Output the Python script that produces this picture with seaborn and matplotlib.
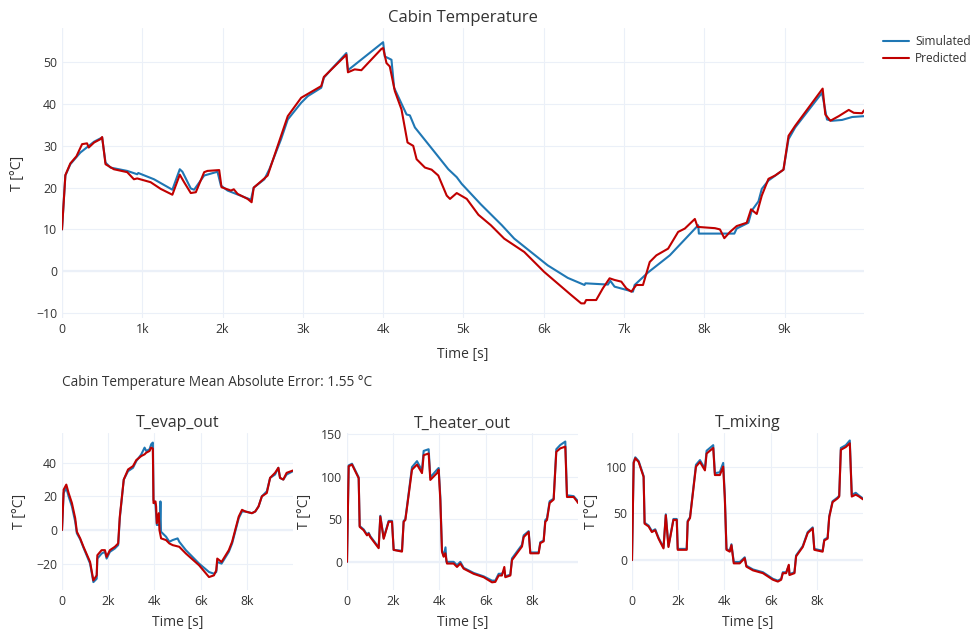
import matplotlib
matplotlib.use("Agg")
import matplotlib.pyplot as plt
from matplotlib.ticker import FuncFormatter
from matplotlib.lines import Line2D
import seaborn as sns

# DATA
cabin_sim_t = [0, 42, 104, 229, 400, 500, 542, 604, 812, 937, 950, 1146, 1375, 1467, 1500, 1604, 1646,
               1771, 1937, 1979, 2062, 2354, 2388, 2521, 2583, 2729, 2812, 2979, 3062, 3229, 3262, 3354,
               3542, 3562, 4000, 4021, 4104, 4137, 4292, 4333, 4396, 4646, 4812, 4917, 4979, 5217, 5479,
               5633, 6050, 6300, 6508, 6520, 6800, 6830, 6883, 7112, 7133, 7300, 7571, 7925, 7933, 8375,
               8404, 8550, 8592, 8675, 8717, 8800, 8987, 9050, 9133, 9467, 9529, 9592, 9717, 9842, 9990]
cabin_sim_T = [10, 22.9, 25.6, 28.4, 31, 32, 26, 24.8, 24, 23.2, 23.5, 22, 19.5, 24.4, 23.8, 19.8, 19.5,
               22.9, 23.8, 20.5, 19.3, 17.1, 20, 22, 24.4, 31.6, 36.3, 40.3, 41.9, 43.9, 46.3, 48.3,
               52.2, 48.1, 54.8, 51.4, 50.6, 43.9, 37.5, 37.3, 34.4, 28.4, 24.4, 22.5, 20.9, 16.0, 11,
               7.8, 1.4, -1.6, -3.3, -2.9, -3.2, -2.3, -3.7, -4.9, -3.3, -0.3, 3.8, 11, 9, 9,
               10.2, 11.6, 14.5, 16.7, 19.7, 21.7, 24.3, 31.6, 34.4, 42.7, 36.3, 36, 36.2, 36.9, 37.1]

cabin_pred_t = [0, 42, 104, 180, 250, 312, 333, 400, 479, 500, 542, 646, 812, 896, 937, 1104, 1229, 1375,
                1467, 1521, 1604, 1667, 1771, 1812, 1958, 1987, 2104, 2140, 2187, 2312, 2362, 2388, 2479,
                2562, 2729, 2812, 2979, 3104, 3229, 3262, 3521, 3542, 3562, 3646, 3729, 3812, 3979, 4000,
                4042, 4083, 4146, 4229, 4304, 4375, 4417, 4521, 4604, 4687, 4792, 4833, 4917, 5042, 5187,
                5342, 5508, 5758, 6008, 6342, 6467, 6508, 6529, 6654, 6737, 6821, 6883, 6967, 7029, 7092,
                7154, 7237, 7321, 7404, 7550, 7675, 7758, 7883, 7917, 8133, 8196, 8250, 8321, 8404, 8529,
                8583, 8654, 8717, 8800, 8883, 8987, 9050, 9133, 9475, 9508, 9571, 9675, 9800, 9863, 9967,
                9990]
cabin_pred_T = [10, 23, 25.8, 27.5, 30.4, 30.6, 29.6, 30.8, 31.6, 32.1, 25.6, 24.4, 23.7, 22, 22.2, 21.3,
                19.7, 18.3, 23.1, 21.3, 18.7, 18.9, 23.7, 24, 24.2, 20.1, 19.3, 19.6, 18.5, 17.3, 16.5, 20,
                21.5, 22.9, 32.4, 37.1, 41.5, 42.9, 44.3, 46.5, 51.4, 51.8, 47.6, 48.3, 48.1, 49.8, 53.2,
                53.4, 49.8, 49, 43.1, 38.7, 30.8, 30, 26.8, 24.8, 24.3, 22.9, 18.1, 17.3, 18.7, 17.3, 13.5,
                11, 7.8, 4.6, -0.2, -5.7, -7.7, -7.7, -6.9, -6.9, -4.1, -1.7, -2.1, -2.5, -4.1, -4.9,
                -3.3, -3.3, 2.2, 3.8, 5.4, 9.4, 10.2, 12.5, 10.6, 10.3, 10, 7.9, 9.4, 10.8, 11.6,
                14.8, 13.7, 18.1, 22.1, 22.9, 24.3, 32.4, 34.8, 43.7, 37.5, 36, 37.1, 38.6, 37.9, 37.8,
                38.5]

evap_sim_t = [0, 71, 186, 286, 429, 571, 643, 786, 929, 1214, 1357, 1500, 1529, 1714, 1857, 1929, 2071,
              2286, 2429, 2500, 2671, 2857, 3071, 3214, 3429, 3571, 3643, 3786, 3857, 3929, 3957, 4043,
              4100, 4230, 4257, 4280, 4500, 4643, 4786, 5000, 5071, 5357, 5929, 6357, 6571, 6671, 6714,
              6900, 7214, 7357, 7643, 7786, 7929, 8214, 8357, 8500, 8643, 8857, 9000, 9214, 9357, 9429,
              9571, 9714, 9990]
evap_sim_T = [0, 22, 25, 20, 14, 5, -2, -5.5, -10.5, -20, -31, -29, -17, -14, -13, -17, -13,
              -11, -9, 7, 30, 35, 37, 41, 45, 49, 47, 48, 51, 52, 18, 15,
              3, 3, 17, -1, -4, -7, -6, -5, -7, -12, -20, -25, -26, -25, -19,
              -20, -13, -8, 7, 11, 11, 10, 11, 14, 20, 23, 31, 33, 37, 31,
              30, 33, 35]

evap_pred_t = [0, 71, 186, 286, 429, 571, 643, 786, 929, 1214, 1357, 1500, 1529, 1714, 1857, 1929, 2071,
               2286, 2429, 2500, 2671, 2857, 3071, 3214, 3429, 3571, 3643, 3786, 3857, 3929, 3957, 4043,
               4071, 4100, 4186, 4214, 4286, 4500, 4643, 4786, 5071, 5357, 5929, 6357, 6571, 6671, 6714,
               6900, 7214, 7357, 7643, 7786, 7929, 8214, 8357, 8500, 8643, 8857, 9000, 9214, 9357, 9429,
               9571, 9714, 9990]
evap_pred_T = [0, 24, 27, 22, 16, 7, -1, -5, -10, -19, -30, -27, -15, -12, -12, -16, -12,
               -10, -8, 8, 30, 36, 38, 41.6, 44, 45, 46, 47, 49, 48.4, 16, 17,
               14, 4, 10, 0, -5, -6, -8, -9, -10, -14, -21, -28, -27, -24, -17,
               -19, -12, -7, 8, 12, 11, 10, 11, 14, 20, 22, 31, 34, 37, 31,
               30, 34, 35.4]

heater_sim_t = [0, 72, 216, 505, 548, 721, 865, 937, 1009, 1369, 1441, 1586, 1802, 1946, 2018, 2378, 2450,
                2523, 2811, 3027, 3243, 3315, 3531, 3603, 3892, 3964, 4036, 4108, 4180, 4260, 4300, 4612,
                4757, 4901, 5045, 5477, 5910, 6270, 6414, 6559, 6700, 6804, 6847, 7063, 7135, 7351, 7568,
                7640, 7856, 7928, 8288, 8360, 8504, 8576, 8648, 8763, 8937, 9052, 9225, 9441, 9513, 9801,
                9990]
heater_sim_T = [0, 113, 115, 99, 42, 38, 32, 34, 30, 17, 54, 28, 48, 48, 14, 13, 48,
                50, 111, 118, 107, 130, 132, 99, 108, 110, 76, 13, 7, 17, 0, 0,
                -4, 0, -7, -13, -17, -22, -22, -14, -14, -10, -17, -15, 4, 12, 20,
                31, 36, 11, 11, 23, 25, 49, 51, 71, 74, 132, 137, 141, 78, 77,
                71]

heater_pred_t = [0, 72, 216, 505, 548, 721, 865, 937, 1009, 1369, 1441, 1586, 1802, 1946, 2018, 2378, 2450,
                 2523, 2811, 3027, 3243, 3315, 3531, 3603, 3892, 3964, 4036, 4108, 4180, 4252, 4324, 4612,
                 4757, 4901, 5045, 5477, 5910, 6270, 6414, 6559, 6700, 6804, 6847, 7063, 7135, 7351, 7568,
                 7640, 7856, 7928, 8288, 8360, 8504, 8576, 8648, 8763, 8937, 9052, 9225, 9441, 9513, 9801,
                 9945, 9990]
heater_pred_T = [0, 112, 114, 98, 41, 37, 31, 33, 29, 16, 53, 27, 47, 47, 14, 12, 47,
                 49, 108, 114, 104, 125, 127, 96, 104, 108, 72, 12, 6, 10, -2, -2,
                 -6, -2, -8, -14, -18, -24, -23.5, -16, -16, -6, -18, -16, 2, 10, 18,
                 29, 35, 10, 10, 22, 24, 47, 49, 69, 73, 129, 133, 135, 76, 76,
                 71, 69]

mixing_sim_t = [0, 72, 143, 287, 502, 545, 717, 860, 1004, 1147, 1362, 1462, 1577, 1792, 1935, 1978, 2366,
                2409, 2509, 2767, 2939, 3154, 3226, 3513, 3584, 3799, 3943, 4014, 4086, 4229, 4301, 4401,
                4659, 4875, 4946, 5233, 5663, 6093, 6308, 6452, 6523, 6667, 6781, 6810, 7025, 7097, 7384,
                7599, 7814, 7885, 8244, 8315, 8459, 8530, 8674, 8889, 8961, 9032, 9247, 9419, 9505, 9677,
                9821, 9990]
mixing_sim_T = [0, 105, 110, 106, 90, 40, 37, 31, 33, 24, 13.5, 49, 15, 44, 44, 12, 12,
                42, 46, 102, 107, 98, 117, 123, 93, 94, 104, 69, 12, 10, 17, -2,
                -2, 3, -6, -10, -13, -20, -22, -20, -13, -13, -6, -15, -13, 5, 15,
                30, 35, 12, 10, 22, 24, 47, 63, 67, 69, 120, 123, 128, 70, 72,
                69, 66]

mixing_pred_t = [0, 72, 143, 287, 502, 545, 717, 860, 1004, 1147, 1362, 1462, 1577, 1792, 1935, 1978, 2366,
                 2409, 2509, 2767, 2939, 3154, 3226, 3513, 3584, 3799, 3943, 4014, 4086, 4229, 4301, 4401,
                 4659, 4875, 4946, 5233, 5663, 6093, 6308, 6452, 6523, 6667, 6781, 6810, 7025, 7097, 7384,
                 7599, 7814, 7885, 8244, 8315, 8459, 8530, 8674, 8889, 8961, 9032, 9247, 9419, 9505, 9677,
                 9821, 9990]
mixing_pred_T = [0, 104, 109, 105, 89, 39, 36, 30, 32, 23, 12.5, 48, 14, 43, 43, 11, 11,
                 41, 45, 100, 105, 96, 114, 120, 91, 91, 100, 66, 11, 9, 16, -3.5,
                 -3.5, 2, -7, -11, -14, -21, -23, -21, -14, -14, -5, -16, -14, 4, 14,
                 29, 34, 11, 9, 21, 23, 46, 62, 66, 68, 118, 121, 125, 68, 70,
                 68, 65]

mae_text = "Cabin Temperature Mean Absolute Error: 1.55 °C"

# STYLE
sns.set_theme(style="white")
plt.rcParams['font.family'] = ['Open Sans', 'DejaVu Sans']
TEXT = "#333333"
GRID = "#EBF0F8"
SIM_COLOR = "#1f77b4"
PRED_COLOR = "#c00000"
LW = 1.5

W, H = 974, 632
fig = plt.figure(figsize=(W / 100, H / 100), dpi=100)
fig.patch.set_facecolor("white")


def px_axes(left, top, right, bottom):
    return fig.add_axes([left / W, 1 - bottom / H, (right - left) / W, (bottom - top) / H])


def k_fmt(v, pos):
    return "0" if v == 0 else f"{int(v / 1000)}k"


def style(ax, xticks, yticks, ylim, title, tsize, ylab_x, xlab_y):
    ax.set_facecolor("white")
    for s in ax.spines.values():
        s.set_visible(False)
    ax.set_xlim(0, 9990)
    ax.set_ylim(*ylim)
    ax.set_xticks(xticks)
    ax.set_yticks(yticks)
    ax.xaxis.set_major_formatter(FuncFormatter(k_fmt))
    ax.grid(True, color=GRID, linewidth=0.8)
    ax.axhline(0, color=GRID, linewidth=1.6, zorder=0.5)
    ax.axvline(0, color=GRID, linewidth=1.6, zorder=0.5)
    ax.set_axisbelow(True)
    ax.tick_params(length=0, labelsize=8.8, colors=TEXT, pad=3.5)
    ax.set_title(title, fontsize=tsize, color=TEXT, pad=4)
    ax.set_xlabel("Time [s]", fontsize=10, color=TEXT)
    ax.set_ylabel("T [°C]", fontsize=10, color=TEXT)
    ax.yaxis.set_label_coords(ylab_x, 0.5)
    ax.xaxis.set_label_coords(0.5, xlab_y)


def draw(ax, st, sT, pt, pT):
    sns.lineplot(x=st, y=sT, ax=ax, color=SIM_COLOR, linewidth=LW, sort=False, estimator=None)
    sns.lineplot(x=pt, y=pT, ax=ax, color=PRED_COLOR, linewidth=LW, sort=False, estimator=None)


# TOP: cabin temperature
ax_top = px_axes(62, 28, 864, 318)
draw(ax_top, cabin_sim_t, cabin_sim_T, cabin_pred_t, cabin_pred_T)
style(ax_top, range(0, 10000, 1000), range(-10, 60, 10), (-11.2, 58.2),
      "Cabin Temperature", 12, (25 - 62) / 802, -0.10)

fig.text(62 / W, 1 - 382 / H, mae_text, fontsize=9.8, color=TEXT, va="center", ha="left")

# BOTTOM: component temperatures
ax_evap = px_axes(62, 433, 293, 590)
draw(ax_evap, evap_sim_t, evap_sim_T, evap_pred_t, evap_pred_T)
style(ax_evap, range(0, 10000, 2000), [-20, 0, 20, 40], (-35.7, 57.7),
      "T_evap_out", 11.5, (27 - 62) / 231, -0.159)

ax_heat = px_axes(347, 433, 578, 590)
draw(ax_heat, heater_sim_t, heater_sim_T, heater_pred_t, heater_pred_T)
style(ax_heat, range(0, 10000, 2000), [0, 50, 100, 150], (-33, 151),
      "T_heater_out", 11.5, (312 - 347) / 231, -0.159)

ax_mix = px_axes(632, 433, 863, 590)
draw(ax_mix, mixing_sim_t, mixing_sim_T, mixing_pred_t, mixing_pred_T)
style(ax_mix, range(0, 10000, 2000), [0, 50, 100], (-32, 136),
      "T_mixing", 11.5, (599 - 632) / 231, -0.159)

# legend
handles = [Line2D([], [], color=SIM_COLOR, linewidth=LW),
           Line2D([], [], color=PRED_COLOR, linewidth=LW)]
fig.legend(handles, ["Simulated", "Predicted"], loc="upper left",
           bbox_to_anchor=(878 / W, 1 - 30 / H), frameon=False, fontsize=8.6,
           labelcolor=TEXT, handlelength=2.2, handletextpad=0.5, labelspacing=0.35,
           borderaxespad=0)

fig.savefig("out.png", dpi=100, facecolor="white")
